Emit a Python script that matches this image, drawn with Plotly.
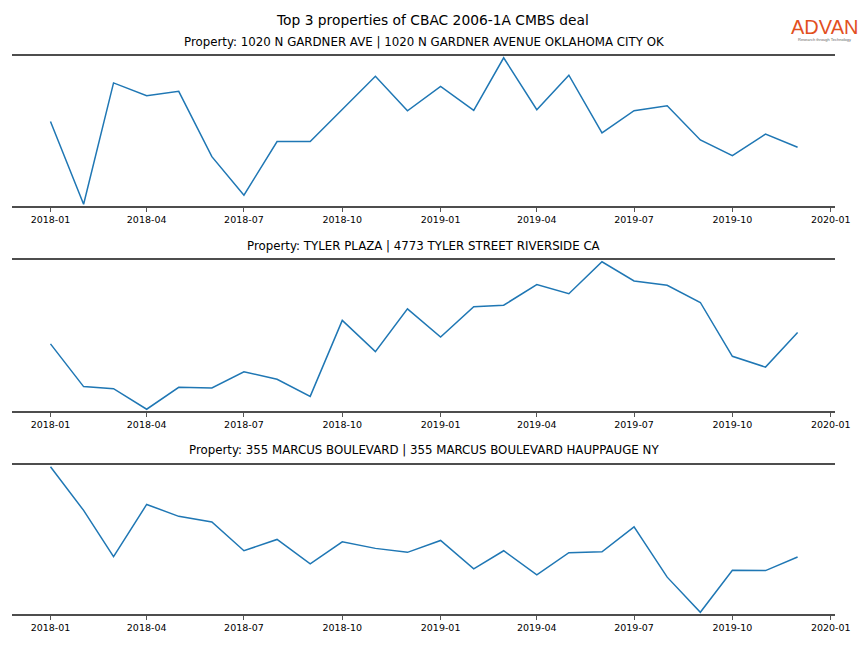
import plotly.graph_objects as go
import pandas as pd

months = pd.date_range("2018-01-01", "2019-12-01", freq="MS").strftime("%Y-%m-%d").tolist()

titles = [
    "Property: 1020 N GARDNER AVE | 1020 N GARDNER AVENUE OKLAHOMA CITY OK",
    "Property: TYLER PLAZA | 4773 TYLER STREET RIVERSIDE CA",
    "Property: 355 MARCUS BOULEVARD | 355 MARCUS BOULEVARD HAUPPAUGE NY",
]

gardner = [84.3, 2.0, 122.7, 110.0, 114.3, 49.3, 11.0, 64.3, 64.3, 96.7, 129.3, 95.0,
           119.3, 95.3, 147.7, 96.0, 130.3, 73.0, 95.0, 100.0, 66.0, 50.3, 71.7, 58.7]
tyler = [67.0, 24.7, 22.7, 2.3, 24.0, 23.3, 39.3, 32.0, 15.0, 90.3, 59.3, 101.7,
         73.7, 103.7, 105.3, 125.7, 116.7, 148.3, 129.3, 125.0, 108.0, 54.7, 44.0, 78.3]
marcus = [148.0, 104.0, 57.3, 110.0, 98.0, 92.3, 63.3, 74.7, 50.0, 72.3, 65.7, 61.7,
          73.7, 45.0, 63.3, 39.0, 61.3, 62.3, 87.3, 36.7, 1.3, 43.7, 43.3, 57.0]

series = [gardner, tyler, marcus]

W, H = 864, 648
x0, x1 = 12 / W, 835 / W
panels_px = [(56, 206), (260, 411), (465, 614)]
title_y_px = [42, 246, 450]

fig = go.Figure()
layout = dict(
    width=W, height=H, autosize=False,
    margin=dict(l=0, r=0, t=0, b=0, autoexpand=False),
    paper_bgcolor="white", plot_bgcolor="white",
    showlegend=False,
    font=dict(family="DejaVu Sans", color="black"),
)
annotations = []
for i, (vals, ttl) in enumerate(zip(series, titles)):
    ax = "" if i == 0 else str(i + 1)
    top, bot = panels_px[i]
    fig.add_trace(go.Scatter(x=months, y=vals, mode="lines",
                             line=dict(color="#1f77b4", width=1.5),
                             xaxis="x" + ax, yaxis="y" + ax))
    span = max(vals) - min(vals)
    pad = 0.012 * span
    layout["xaxis" + ax] = dict(
        domain=[x0, x1], anchor="y" + ax, automargin=False,
        type="date", range=["2017-11-26", "2020-01-05"],
        tick0="2018-01-01", dtick="M3", tickformat="%Y-%m",
        ticks="outside", ticklen=4, tickwidth=1, tickcolor="#555555",
        showline=True, linecolor="#4d4d4d", linewidth=2, mirror=True,
        showgrid=False, zeroline=False,
        tickfont=dict(size=9.5, color="black", family="DejaVu Sans"),
    )
    layout["yaxis" + ax] = dict(
        domain=[1 - bot / H, 1 - top / H], anchor="x" + ax, automargin=False,
        range=[min(vals) - pad, max(vals) + pad],
        showline=False, showgrid=False, zeroline=False,
        showticklabels=False, ticks="",
    )
    annotations.append(dict(
        text=ttl, x=(x0 + x1) / 2, y=1 - title_y_px[i] / H,
        xref="paper", yref="paper", showarrow=False,
        xanchor="center", yanchor="middle",
        font=dict(size=11.8, color="black", family="DejaVu Sans"),
    ))

annotations.append(dict(
    text="Top 3 properties of CBAC 2006-1A CMBS deal", x=0.5, y=1 - 20 / H,
    xref="paper", yref="paper", showarrow=False, xanchor="center", yanchor="middle",
    font=dict(size=13.8, color="black", family="DejaVu Sans"),
))
annotations.append(dict(
    text="ADVAN", x=824 / W, y=1 - 27 / H,
    xref="paper", yref="paper", showarrow=False, xanchor="center", yanchor="middle",
    font=dict(size=20, color="#E2501F", family="Liberation Sans"),
))
annotations.append(dict(
    text="Research through Technology", x=824 / W, y=1 - 39 / H,
    xref="paper", yref="paper", showarrow=False, xanchor="center", yanchor="middle",
    font=dict(size=4, color="#666666", family="Liberation Sans"),
))
layout["annotations"] = annotations
fig.update_layout(**layout)

post = "document.body.style.margin='0';document.body.style.overflow='hidden';"
fig.write_html("out.html", post_script=post,
               config={"responsive": False, "displayModeBar": False})
